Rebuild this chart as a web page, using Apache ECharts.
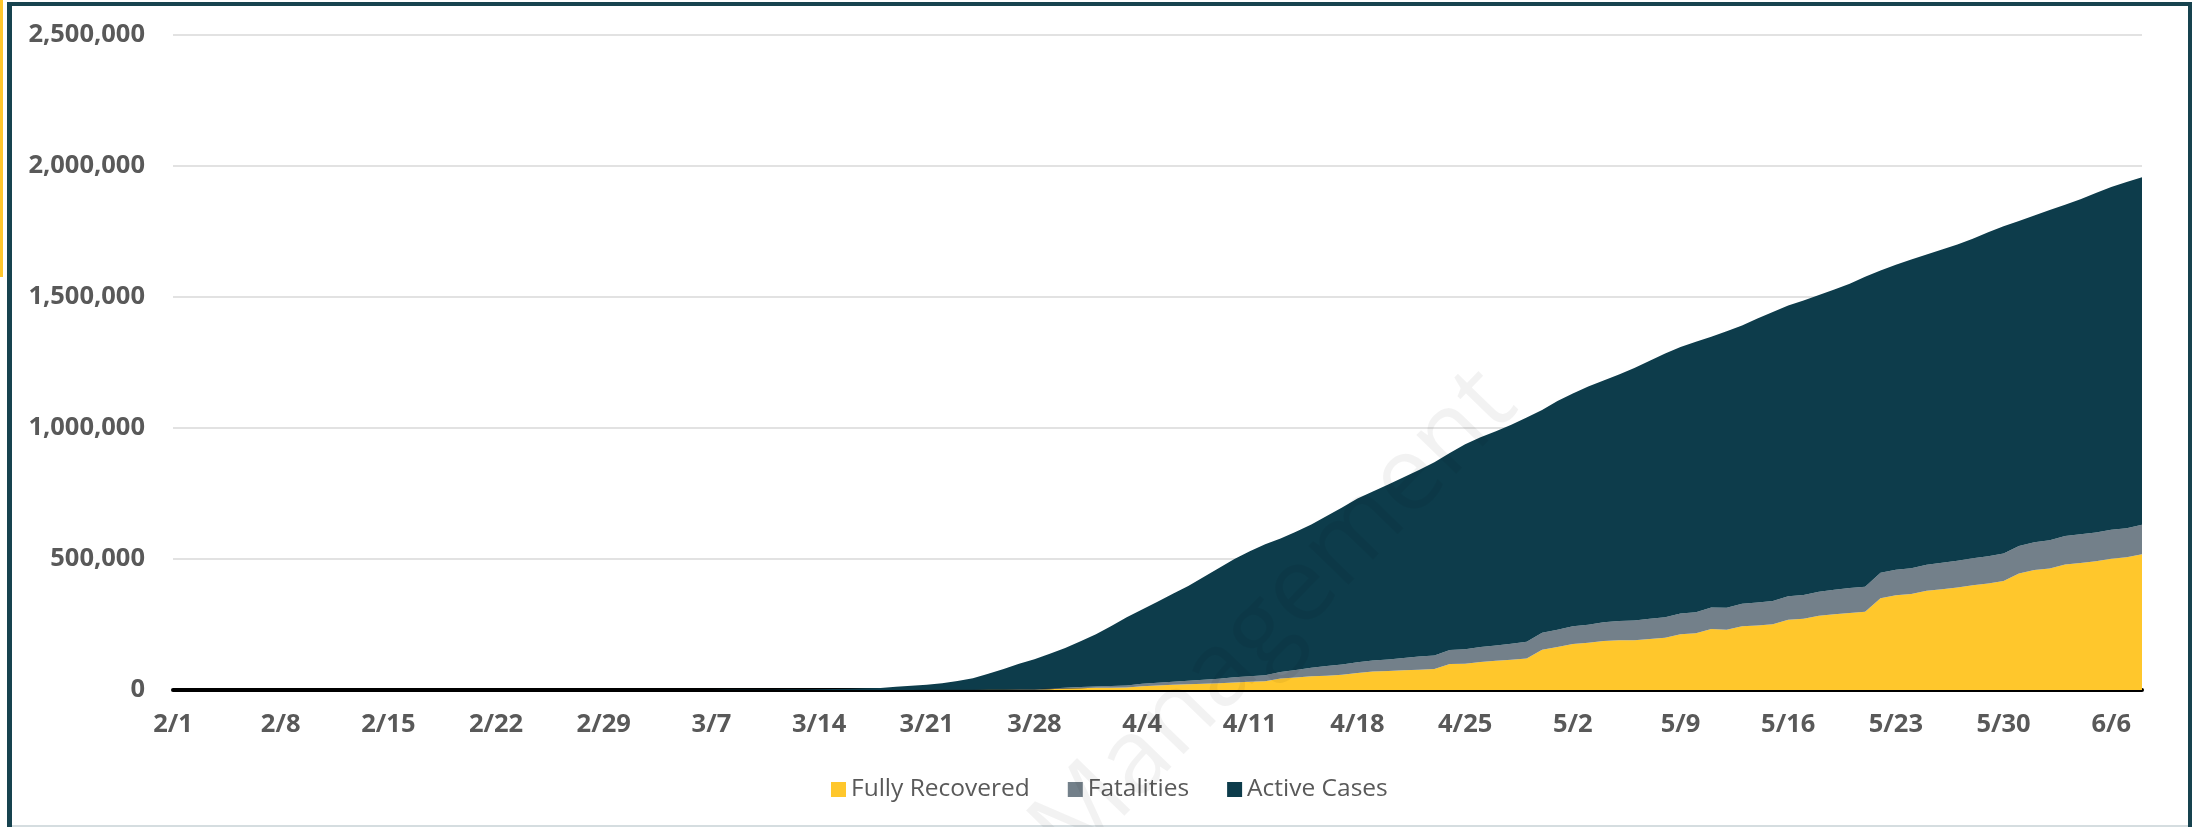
<!DOCTYPE html>
<html>
<head>
<meta charset="utf-8">
<title>Cases</title>
<script src="https://cdn.jsdelivr.net/npm/echarts@6/dist/echarts.min.js"></script>
<style>
  html, body { margin: 0; padding: 0; background: #fff; }
  #chart { width: 2192px; height: 827px; }
</style>
</head>
<body>
<div id="chart"></div>
<script>
// one point per day, 2/1 .. 6/8
var startDay = new Date(2020, 1, 1);
var dayCount = 129;
var dates = [];
for (var i = 0; i < dayCount; i++) {
    var d = new Date(startDay.getTime() + i * 86400000);
    dates.push((d.getMonth() + 1) + '/' + d.getDate());
}

var seriesNames = ['Fully Recovered', 'Fatalities', 'Active Cases'];
var seriesColors = ['#ffc72c', '#73808a', '#0d3c4b'];

var recovered = [
    // Feb
    0,0,0,0,0,0,0,0,3,3,3,3,3,3,3,3,3,3,3,3,5,5,5,5,5,5,5,5,5,
    // Mar
    7,7,7,7,7,7,8,8,8,8,8,8,12,12,17,17,17,100,100,100,200,200,300,400,700,900,1000,1100,2700,5600,7000,
    // Apr
    8500,9000,9700,14700,17400,19600,21800,23600,25400,28800,31300,33000,43500,47800,52100,54700,58500,64800,70300,72300,
    75200,77400,80200,99100,100400,107000,111400,115900,120700,153900,
    // May
    164000,175400,180200,187200,189900,189800,195000,199000,212500,216200,232700,230300,243400,246400,250700,268400,
    272300,283200,289400,294300,298400,350100,361200,366700,379200,384900,391500,400000,406400,416500,444800,
    // Jun
    458200,463900,479300,485000,491700,500800,506400,518500
];

var fatalities = [
    // Feb
    0,0,0,0,0,0,0,0,0,0,0,0,0,0,0,0,0,0,0,0,0,0,0,0,0,0,0,0,1,
    // Mar
    1,6,9,11,12,15,19,22,26,30,38,41,48,57,68,100,100,200,200,300,300,400,600,800,1000,1300,1700,2200,2600,3100,4000,
    // Apr
    5100,6200,7400,8700,10000,11600,13500,15500,17400,19500,21400,23300,25300,28300,32900,36800,38700,40700,42100,44400,
    46600,50000,51900,53800,55400,56800,58400,61000,63000,64900,
    // May
    66400,67700,68900,71100,73500,75700,77200,78800,79500,80700,82400,84100,85900,87500,88800,89600,
    90300,91900,93400,94700,96000,97100,97700,98200,98900,100400,101600,102800,103800,104400,105100,
    // Jun
    106200,107200,108200,109100,109800,110500,111000,111800
];

var activeCases = [
    // Feb
    8,8,11,11,12,12,12,12,9,9,10,10,11,11,11,11,11,11,11,11,11,11,11,11,11,11,12,20,26,
    // Mar
    67,87,108,140,202,297,408,511,670,956,1255,1581,2123,2701,3528,
    4500,6200,7600,11700,15600,19500,25400,33100,43800,60300,77800,97300,113700,132700,151300,175000,
    // Apr
    199400,228800,260900,283600,309600,335800,361700,391900,423200,451700,477300,499700,509200,527900,547000,572500,
    599800,625500,645600,667300,690200,712600,736900,752100,782200,801200,818200,835100,856300,850200,
    // May
    872600,888900,908900,922700,940600,963500,984800,1006200,1017000,1032100,1032900,1054600,1061700,1084100,1103500,1110000,
    1124400,1132900,1146200,1162000,1182600,1153800,1164100,1178100,1183900,1195700,1206900,1219200,1236800,1249100,1240100,
    // Jun
    1246600,1260900,1264500,1278900,1295500,1308700,1321600,1326700
];

var yMax = 2500000;
var yStep = 500000;

var chartDom = document.getElementById('chart');
var myChart = echarts.init(chartDom);

function areaSeries(idx, values) {
    return {
        name: seriesNames[idx],
        type: 'line',
        stack: 'total',
        data: values,
        symbol: 'none',
        lineStyle: { width: 0 },
        itemStyle: { color: seriesColors[idx] },
        areaStyle: { color: seriesColors[idx], opacity: 1 },
        emphasis: { disabled: true }
    };
}

var option = {
    animation: false,
    backgroundColor: '#ffffff',
    grid: { left: 173, right: 50, top: 35, bottom: 137 },
    legend: {
        data: seriesNames,
        left: 826,
        top: 772,
        icon: 'rect',
        itemWidth: 15,
        itemHeight: 15,
        itemGap: 38,
        textStyle: { fontFamily: 'Open Sans', fontSize: 24.5, color: '#595959' }
    },
    xAxis: {
        type: 'category',
        data: dates,
        boundaryGap: false,
        axisLine: { lineStyle: { color: '#000000', width: 4 } },
        axisTick: { show: false },
        axisLabel: {
            interval: 6,
            margin: 22,
            fontFamily: 'Open Sans',
            fontWeight: 'bold',
            fontSize: 25.5,
            color: '#595959'
        },
        splitLine: { show: false }
    },
    yAxis: {
        type: 'value',
        min: 0,
        max: yMax,
        interval: yStep,
        axisLine: { show: false },
        axisTick: { show: false },
        axisLabel: {
            margin: 28,
            fontFamily: 'Open Sans',
            fontWeight: 'bold',
            fontSize: 25.5,
            color: '#595959',
            formatter: function (v) { return v.toLocaleString('en-US'); }
        },
        splitLine: { lineStyle: { color: '#d9d9d9', width: 1.5 } }
    },
    graphic: [
        // slide frame
        { type: 'rect', shape: { x: 0, y: 0, width: 3, height: 277 }, style: { fill: '#ffc72c' }, silent: true },
        { type: 'rect', shape: { x: 7, y: 2, width: 2185, height: 4 }, style: { fill: '#17434f' }, silent: true },
        { type: 'rect', shape: { x: 7, y: 2, width: 5, height: 825 }, style: { fill: '#17434f' }, silent: true },
        { type: 'rect', shape: { x: 2188, y: 2, width: 4, height: 825 }, style: { fill: '#17434f' }, silent: true },
        { type: 'rect', shape: { x: 12, y: 825, width: 2176, height: 2 }, style: { fill: '#d5dde0' }, silent: true },
        // watermark
        {
            type: 'text',
            x: 1275,
            y: 618,
            rotation: 0.80,
            z: 100,
            silent: true,
            style: {
                text: 'Management',
                fontFamily: 'Open Sans',
                fontSize: 104,
                fill: 'rgba(0,0,0,0.05)',
                align: 'center',
                verticalAlign: 'middle'
            }
        }
    ],
    series: [
        areaSeries(0, recovered),
        areaSeries(1, fatalities),
        areaSeries(2, activeCases)
    ]
};

myChart.setOption(option);
window.addEventListener('resize', function () {
    myChart.resize();
});
</script>
</body>
</html>
